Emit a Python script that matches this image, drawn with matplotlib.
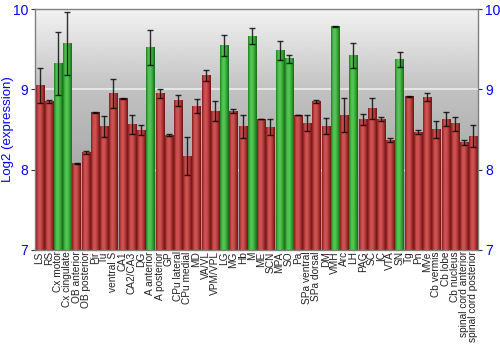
import numpy as np
import matplotlib
matplotlib.use("Agg")
import matplotlib.pyplot as plt
from matplotlib.colors import LinearSegmentedColormap

plt.rcParams['font.family'] = ['Liberation Sans', 'DejaVu Sans']

regions = [
    "LS", "RS", "Cx motor", "Cx cingulate", "OB anterior", "OB posterior",
    "Pir", "Tu", "ventral S", "CA1", "CA2/CA3", "DG", "A anterior",
    "A posterior", "GP", "CPu lateral", "CPu medial", "MD", "VA/VL",
    "VPM/VPL", "LG", "MG", "Hb", "M", "ME", "SCN", "MPA", "SO", "Pa",
    "SPa ventral", "SPa dorsal", "DM", "VMH", "Arc", "LH", "PAG", "SC", "IC",
    "VTA", "SN", "Tg", "Pn", "MVe", "Cb vermis", "Cb lobe", "Cb nucleus",
    "spinal cord anterior", "spinal cord posterior",
]
expression = [
    9.05, 8.85, 9.32, 9.57, 8.08, 8.21, 8.71, 8.54, 8.95, 8.89, 8.56, 8.49,
    9.52, 8.95, 8.43, 8.86, 8.17, 8.79, 9.17, 8.73, 9.55, 8.73, 8.54, 9.66,
    8.63, 8.53, 9.48, 9.38, 8.68, 8.58, 8.85, 8.54, 9.785, 8.68, 9.42, 8.62,
    8.76, 8.63, 8.37, 9.37, 8.91, 8.47, 8.90, 8.50, 8.63, 8.57, 8.34, 8.42,
]
errors = [
    0.22, 0.02, 0.39, 0.39, 0.005, 0.02, 0.01, 0.13, 0.18, 0.005, 0.12, 0.06,
    0.22, 0.06, 0.01, 0.07, 0.24, 0.09, 0.07, 0.12, 0.13, 0.02, 0.14, 0.10,
    0.005, 0.10, 0.12, 0.05, 0.005, 0.10, 0.02, 0.10, 0.005, 0.21, 0.16, 0.07,
    0.13, 0.03, 0.02, 0.09, 0.01, 0.02, 0.05, 0.10, 0.09, 0.09, 0.03, 0.14,
]
highlighted = ["Cx motor", "Cx cingulate", "A anterior", "LG", "M", "MPA",
               "SO", "VMH", "LH", "SN"]

ymin, ymax = 7, 10

# cylinder-like shading across each bar
red_cmap = LinearSegmentedColormap.from_list(
    "red_bar", ["#801c1c", "#cc4e4e", "#cf5454", "#aa3232", "#6c1414"])
green_cmap = LinearSegmentedColormap.from_list(
    "green_bar", ["#217c21", "#4ec24e", "#54c654", "#32a232", "#176a17"])
shade = np.linspace(0, 1, 64).reshape(1, -1)

fig = plt.figure(figsize=(5, 3.5), dpi=100)
ax = fig.add_axes([0.07, 0.286, 0.886, 0.688])

n = len(regions)
x = np.arange(n)
width = 0.88

# background gradient, light at the top and gray further down
levels = np.linspace(ymin, ymax, 200)
bg = np.interp(levels, [7, 8, 9, 10], [0.6, 0.66, 0.76, 0.95]).reshape(-1, 1)
ax.imshow(bg, cmap="gray", vmin=0, vmax=1, origin="lower", aspect="auto",
          extent=[-0.5, n - 0.5, ymin, ymax], zorder=0)

ax.axhline(9, color="white", lw=1.2, alpha=0.7, zorder=1)
ax.axhline(8, color="white", lw=1.0, ls=(0, (2, 3)), alpha=0.8, zorder=1)

for xi, name, val in zip(x, regions, expression):
    cmap = green_cmap if name in highlighted else red_cmap
    ax.imshow(shade, cmap=cmap, aspect="auto", interpolation="bilinear",
              extent=[xi - width / 2, xi + width / 2, ymin, val], zorder=2)

ax.errorbar(x, expression, yerr=errors, fmt="none", ecolor="black",
            elinewidth=1.0, capsize=2.2, capthick=1.0, alpha=0.8, zorder=3)

ax.set_xlim(-0.5, n - 0.5)
ax.set_ylim(ymin, ymax)
ax.set_yticks([7, 8, 9, 10])
ax.set_xticks(x)
ax.set_xticklabels(regions, rotation=90, fontsize=7.3, color="#222222")
ax.tick_params(axis="x", length=0, pad=1)
ax.tick_params(axis="y", labelcolor="blue", labelsize=10, color="#333333",
               length=3, pad=2, left=True, right=True,
               labelleft=True, labelright=True)
ax.set_ylabel("Log2 (expression)", color="blue", fontsize=9.5)
ax.yaxis.set_label_coords(-0.047, 0.5)

for side in ["top", "left", "right", "bottom"]:
    ax.spines[side].set_color("#808080")
    ax.spines[side].set_linewidth(1.0)

fig.savefig("out.png", dpi=100)
